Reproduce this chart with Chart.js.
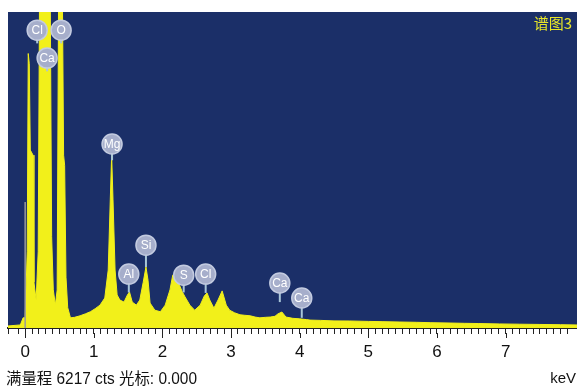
<!DOCTYPE html>
<html>
<head>
<meta charset="utf-8">
<script src="https://cdn.jsdelivr.net/npm/chart.js@4.4.1/dist/chart.umd.min.js"></script>
<style>
  html, body { margin: 0; padding: 0; background: #fff; }
</style>
</head>
<body>
<canvas id="eds" width="577" height="389"></canvas>
<script>
// spectrum (keV, counts)
const energyKeV = [-0.25, -0.07, -0.03, 0.00, 0.03, 0.045, 0.06, 0.075, 0.115, 0.128, 0.16, 0.19, 0.211, 0.29, 0.364, 0.386, 0.41, 0.44, 0.466, 0.488, 0.52, 0.54, 0.56, 0.575, 0.595, 0.62, 0.66, 0.72, 0.80, 0.88, 0.95, 1.02, 1.09, 1.16, 1.21, 1.24, 1.26, 1.28, 1.31, 1.34, 1.38, 1.44, 1.49, 1.52, 1.56, 1.62, 1.67, 1.72, 1.76, 1.79, 1.82, 1.89, 1.97, 2.04, 2.11, 2.15, 2.18, 2.23, 2.29, 2.33, 2.40, 2.47, 2.55, 2.61, 2.65, 2.69, 2.75, 2.81, 2.87, 2.93, 2.98, 3.05, 3.13, 3.20, 3.28, 3.35, 3.42, 3.50, 3.57, 3.64, 3.68, 3.74, 3.80, 3.90, 4.00, 4.10, 4.15, 4.30, 4.50, 4.73, 5.00, 5.20, 5.46, 5.70, 5.90, 6.19, 6.40, 6.60, 6.91, 7.20, 7.50, 7.80, 8.04];
const counts = [40, 60, 200, 200, 1500, 5400, 5200, 3500, 3400, 900, 550, 1500, 6900, 7500, 6900, 1800, 750, 450, 750, 6800, 7600, 7000, 3400, 3200, 1000, 400, 200, 210, 240, 280, 320, 380, 450, 590, 1140, 2520, 3400, 2520, 1140, 650, 550, 510, 650, 710, 510, 450, 550, 900, 1200, 940, 490, 350, 320, 450, 750, 1040, 1020, 900, 710, 610, 450, 350, 450, 630, 690, 550, 390, 550, 730, 450, 350, 300, 260, 250, 240, 215, 200, 210, 215, 230, 275, 315, 215, 190, 180, 165, 155, 150, 140, 138, 130, 125, 118, 112, 105, 98, 92, 88, 80, 75, 70, 65, 60];

// element tags
const peakNames = ['Cl', 'O', 'Ca', 'Mg', 'Al', 'Si', 'S', 'Cl', 'Ca', 'Ca'];
const peakKeV = [0.175, 0.524, 0.32, 1.266, 1.51, 1.76, 2.31, 2.63, 3.71, 4.03];
const tagLevel = [5860, 5860, 5310, 3620, 1060, 1630, 1040, 1060, 885, 590];
const stemFoot = [5600, 5600, 5050, 3300, 700, 1200, 700, 690, 510, 200];

const fullScale = 6217;
const cursorKeV = 0;
const cursorTop = 2480;
const spectrumName = '谱图3';
const footerText = '满量程 6217 cts 光标: 0.000';

const navy = '#1b2f68';
const yellow = '#f2f01a';

const edsDecor = {
  id: 'edsDecor',
  beforeDraw(chart) {
    const { ctx, chartArea: a } = chart;
    ctx.save();
    ctx.fillStyle = '#fff';
    ctx.fillRect(0, 0, chart.width, chart.height);
    ctx.fillStyle = navy;
    ctx.fillRect(a.left, a.top, a.right - a.left, a.bottom - a.top);
    ctx.restore();
  },
  afterDatasetsDraw(chart) {
    const { ctx, chartArea: a, scales: { x, y } } = chart;
    ctx.save();

    // cursor
    const cx = x.getPixelForValue(cursorKeV);
    ctx.strokeStyle = '#9a9a9a';
    ctx.lineWidth = 1.5;
    ctx.beginPath();
    ctx.moveTo(cx, y.getPixelForValue(cursorTop));
    ctx.lineTo(cx, a.bottom);
    ctx.stroke();

    // tags
    peakNames.forEach((name, i) => {
      const px = x.getPixelForValue(peakKeV[i]);
      const py = y.getPixelForValue(tagLevel[i]);
      const foot = y.getPixelForValue(stemFoot[i]);
      ctx.strokeStyle = '#a9c6d8';
      ctx.lineWidth = 2;
      ctx.beginPath();
      ctx.moveTo(px, py);
      ctx.lineTo(px, foot);
      ctx.stroke();
      ctx.beginPath();
      ctx.arc(px, py, 10, 0, Math.PI * 2);
      ctx.fillStyle = '#a6aecb';
      ctx.fill();
      ctx.strokeStyle = '#c3cbe0';
      ctx.lineWidth = 1.5;
      ctx.stroke();
      ctx.fillStyle = '#fff';
      ctx.font = '12px "Liberation Sans", Arial, sans-serif';
      ctx.textAlign = 'center';
      ctx.textBaseline = 'middle';
      ctx.fillText(name, px, py + 1);
    });

    // spectrum name
    ctx.fillStyle = '#e8e628';
    ctx.font = '15px "Noto Sans CJK SC", sans-serif';
    ctx.textAlign = 'right';
    ctx.textBaseline = 'middle';
    ctx.fillText(spectrumName, 572, 23);
    ctx.restore();
  },
  afterDraw(chart) {
    const { ctx, chartArea: a, scales: { x } } = chart;
    ctx.save();
    // longer marks at whole keV
    ctx.strokeStyle = '#222';
    ctx.lineWidth = 1;
    x.ticks.forEach(t => {
      if (Math.abs(t.value - Math.round(t.value)) < 1e-6) {
        const px = Math.round(x.getPixelForValue(t.value)) + 0.5;
        ctx.beginPath();
        ctx.moveTo(px, a.bottom + 5);
        ctx.lineTo(px, a.bottom + 10);
        ctx.stroke();
      }
    });
    ctx.fillStyle = '#111';
    ctx.font = '15px "Liberation Sans", Arial, sans-serif';
    ctx.textAlign = 'right';
    ctx.textBaseline = 'alphabetic';
    ctx.fillText('keV', 576, 383);
    ctx.textAlign = 'left';
    ctx.font = '16px "Liberation Sans", "Noto Sans CJK SC", sans-serif';
    ctx.fillText(footerText, 6, 384, 191);
    ctx.restore();
  }
};

new Chart(document.getElementById('eds'), {
  type: 'line',
  data: {
    datasets: [{
      data: energyKeV.map((e, i) => ({ x: e, y: counts[i] })),
      borderColor: yellow,
      backgroundColor: yellow,
      borderWidth: 1,
      pointRadius: 0,
      fill: 'origin',
      tension: 0
    }]
  },
  options: {
    responsive: false,
    animation: false,
    layout: { padding: { left: 8, top: 12, right: 0, bottom: 0 } },
    plugins: {
      legend: { display: false },
      tooltip: { enabled: false }
    },
    scales: {
      x: {
        type: 'linear',
        min: -0.25,
        max: 8.04,
        afterFit: s => {
          s.height = 61;
          s.paddingLeft = 0;
          s.paddingRight = 0;
        },
        ticks: {
          stepSize: 0.1,
          autoSkip: false,
          maxRotation: 0,
          padding: 8,
          color: '#111',
          font: { family: '"Liberation Sans", Arial, sans-serif', size: 17 },
          callback: v => {
            const r = Math.round(v);
            return Math.abs(v - r) < 1e-6 && r >= 0 && r <= 7 ? String(r) : '';
          }
        },
        grid: { drawOnChartArea: false, tickLength: 6, color: '#222', tickColor: '#222' },
        border: { color: '#222', width: 2 }
      },
      y: { display: false, min: 0, max: fullScale }
    }
  },
  plugins: [edsDecor]
});
</script>
</body>
</html>
